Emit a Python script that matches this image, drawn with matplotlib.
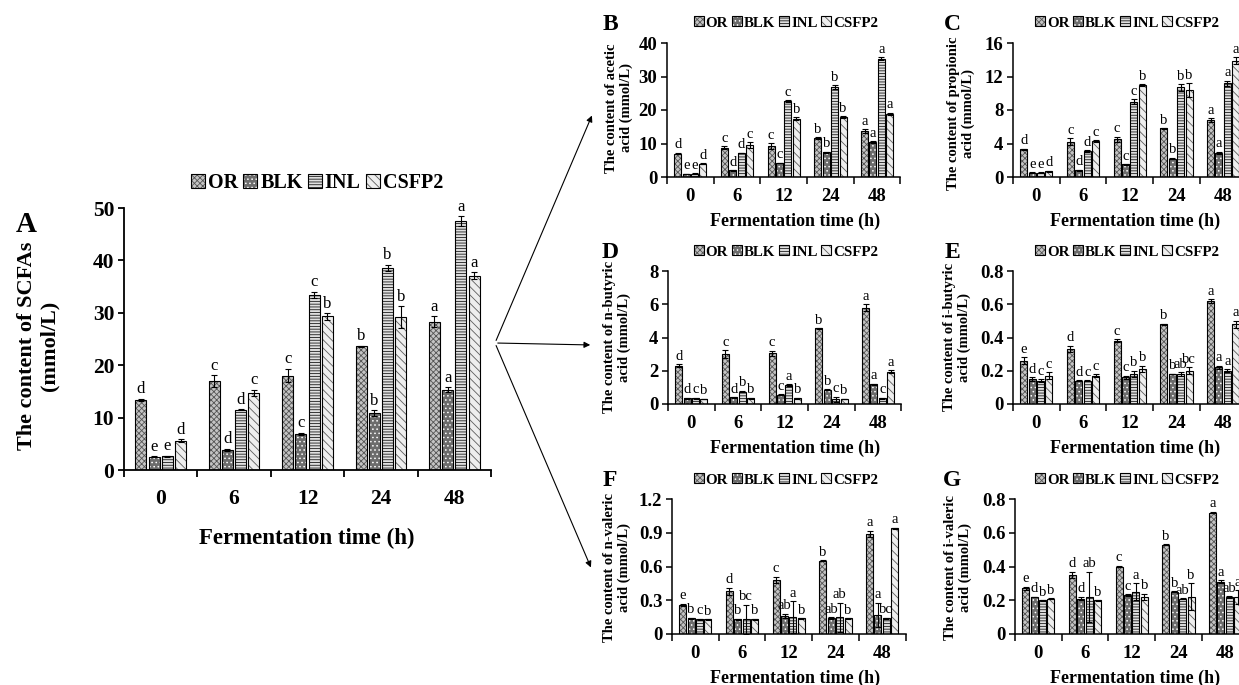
import matplotlib.pyplot as plt
import numpy as np
from matplotlib.patches import Patch, FancyArrowPatch

plt.rcParams['font.family'] = ['Liberation Serif', 'DejaVu Serif']
plt.rcParams['hatch.linewidth'] = 0.6

W, H = 1239, 685

times = ["0", "6", "12", "24", "48"]
series = ["OR", "BLK", "INL", "CSFP2"]

# --- A: total SCFAs (rows: OR, BLK, INL, CSFP2) ---
a_vals = [[13.4, 17.0, 18.0, 23.6, 28.3],
          [2.5, 3.9, 6.9, 10.9, 15.3],
          [2.6, 11.5, 33.4, 38.6, 47.5],
          [5.6, 14.7, 29.3, 29.2, 37.1]]
a_errs = [[0.2, 1.1, 1.3, 0.1, 1.0],
          [0.1, 0.2, 0.2, 0.5, 0.5],
          [0.1, 0.1, 0.6, 0.6, 0.9],
          [0.3, 0.6, 0.6, 2.1, 0.6]]
a_lets = [["d", "c", "c", "b", "a"], ["e", "d", "c", "b", "a"],
          ["e", "d", "c", "b", "a"], ["d", "c", "b", "b", "a"]]

# --- B: acetic acid ---
b_vals = [[7.0, 8.8, 9.3, 11.6, 13.6],
          [0.9, 2.0, 4.2, 7.4, 10.4],
          [1.0, 7.2, 22.6, 26.9, 35.3],
          [4.0, 9.6, 17.4, 17.9, 18.9]]
b_errs = [[0.2, 0.4, 0.8, 0.2, 0.6],
          [0.1, 0.1, 0.1, 0.2, 0.2],
          [0.1, 0.1, 0.3, 0.5, 0.5],
          [0.1, 0.8, 0.4, 0.2, 0.3]]
b_lets = [["d", "c", "c", "b", "a"], ["e", "d", "c", "b", "a"],
          ["e", "d", "c", "b", "a"], ["d", "c", "b", "b", "a"]]

# --- C: propionic acid ---
c_vals = [[3.3, 4.2, 4.5, 5.8, 6.8],
          [0.5, 0.8, 1.5, 2.2, 2.9],
          [0.5, 3.1, 9.0, 10.7, 11.2],
          [0.7, 4.3, 11.0, 10.4, 13.9]]
c_errs = [[0.1, 0.4, 0.3, 0.05, 0.2],
          [0.05, 0.05, 0.05, 0.1, 0.1],
          [0.05, 0.1, 0.3, 0.4, 0.3],
          [0.05, 0.1, 0.1, 0.8, 0.4]]
c_lets = [["d", "c", "c", "b", "a"], ["e", "d", "c", "b", "a"],
          ["e", "d", "c", "b", "a"], ["d", "c", "b", "b", "a"]]

# --- D: n-butyric acid ---
d_vals = [[2.3, 3.0, 3.05, 4.55, 5.8],
          [0.35, 0.4, 0.55, 0.85, 1.2],
          [0.35, 0.75, 1.15, 0.3, 0.35],
          [0.3, 0.35, 0.35, 0.3, 1.95]]
d_errs = [[0.1, 0.25, 0.15, 0.02, 0.2],
          [0.02, 0.02, 0.03, 0.03, 0.03],
          [0.02, 0.05, 0.05, 0.15, 0.02],
          [0.02, 0.02, 0.02, 0.02, 0.1]]
d_lets = [["d", "c", "c", "b", "a"], ["d", "d", "c", "b", "a"],
          ["c", "b", "a", "c", "c"], ["b", "b", "b", "b", "a"]]

# --- E: i-butyric acid ---
e_vals = [[0.26, 0.33, 0.38, 0.48, 0.62],
          [0.15, 0.14, 0.16, 0.18, 0.22],
          [0.14, 0.14, 0.18, 0.18, 0.20],
          [0.17, 0.17, 0.21, 0.20, 0.48]]
e_errs = [[0.02, 0.02, 0.01, 0.002, 0.01],
          [0.01, 0.002, 0.01, 0.002, 0.01],
          [0.01, 0.002, 0.02, 0.01, 0.01],
          [0.02, 0.01, 0.02, 0.02, 0.02]]
e_lets = [["e", "d", "c", "b", "a"], ["d", "d", "c", "b", "a"],
          ["c", "c", "b", "ab", "a"], ["c", "c", "b", "bc", "a"]]

# --- F: n-valeric acid ---
f_vals = [[0.26, 0.38, 0.48, 0.65, 0.89],
          [0.14, 0.13, 0.16, 0.14, 0.17],
          [0.13, 0.13, 0.15, 0.15, 0.14],
          [0.13, 0.13, 0.14, 0.14, 0.94]]
f_errs = [[0.01, 0.03, 0.03, 0.005, 0.03],
          [0.005, 0.005, 0.02, 0.01, 0.11],
          [0.005, 0.13, 0.14, 0.13, 0.005],
          [0.003, 0.005, 0.003, 0.003, 0.005]]
f_lets = [["e", "d", "c", "b", "a"], ["b", "b", "ab", "ab", "a"],
          ["c", "bc", "a", "ab", "bc"], ["b", "b", "b", "b", "a"]]

# --- G: i-valeric acid ---
g_vals = [[0.27, 0.35, 0.40, 0.53, 0.72],
          [0.22, 0.21, 0.23, 0.25, 0.31],
          [0.20, 0.22, 0.25, 0.21, 0.22],
          [0.21, 0.20, 0.22, 0.22, 0.22]]
g_errs = [[0.01, 0.02, 0.005, 0.002, 0.005],
          [0.002, 0.01, 0.005, 0.002, 0.01],
          [0.002, 0.15, 0.05, 0.002, 0.005],
          [0.002, 0.002, 0.02, 0.08, 0.04]]
g_lets = [["e", "d", "c", "b", "a"], ["d", "d", "c", "b", "a"],
          ["b", "ab", "a", "ab", "ab"], ["b", "b", "b", "b", "a"]]

# bar looks: face, hatch, hatch colour
faces = ["#c4c4c4", "#6c6c6c", "#e0e0e0", "#eeeeee"]
hatches = ["xxxxxx", "....", "------", "\\\\\\\\"]
hatch_cols = ["#555555", "#ffffff", "#1a1a1a", "#5e5e5e"]

fig = plt.figure(figsize=(W / 100, H / 100), dpi=100)


def px_axes(x0, x1, ytop, ybot):
    return fig.add_axes([x0 / W, 1 - ybot / H, (x1 - x0) / W, (ybot - ytop) / H])


def fx(x):
    return x / W


def fy(y):
    return 1 - y / H


def draw(ax, vals, errs, lets, ylim, yticks, ylabels, fs_tick, fs_let, xpad, lw):
    x = np.arange(len(times)) + 0.5
    step, width = 0.18, 0.15
    for k in range(4):
        pos = x + (k - 1.5) * step
        ax.bar(pos, vals[k], width, color=faces[k], hatch=hatches[k],
               edgecolor=hatch_cols[k], linewidth=0, zorder=2)
        ax.bar(pos, vals[k], width, fill=False, edgecolor="black",
               linewidth=0.8, zorder=3)
        ax.errorbar(pos, vals[k], yerr=errs[k], fmt="none", ecolor="black",
                    elinewidth=0.8, capsize=2.2, capthick=0.8, zorder=4)
        for p, v, e, t in zip(pos, vals[k], errs[k], lets[k]):
            ax.annotate(t, (p, v + e), xytext=(0, 1), textcoords="offset points",
                        ha="center", va="bottom", fontsize=fs_let)
    ax.set_xlim(0, len(times))
    ax.set_ylim(*ylim)
    ax.set_yticks(yticks, ylabels, fontsize=fs_tick, fontweight="bold")
    ax.set_xticks(x, times, fontsize=fs_tick, fontweight="bold")
    ax.set_xticks(np.arange(len(times) + 1), minor=True)
    ax.tick_params(axis="x", which="major", length=0, pad=xpad)
    ax.tick_params(axis="x", which="minor", length=5, width=lw, direction="out")
    ax.tick_params(axis="y", length=4, width=lw, direction="out", pad=3)
    for s in ["top", "right"]:
        ax.spines[s].set_visible(False)
    for s in ["left", "bottom"]:
        ax.spines[s].set_linewidth(lw)


def legend(cx, cy, size, hl):
    handles = [(Patch(facecolor=faces[k], hatch=hatches[k], edgecolor=hatch_cols[k], lw=0),
                Patch(fill=False, edgecolor="black", lw=0.8)) for k in range(4)]
    fig.legend(handles, series, loc="center", bbox_to_anchor=(fx(cx), fy(cy)), ncol=4,
               frameon=False, handlelength=hl, handleheight=hl, handletextpad=0.15,
               columnspacing=0.25, borderpad=0, prop=dict(weight="bold", size=size))


# --- panel A ---
axA = px_axes(124, 491, 208, 470)
draw(axA, a_vals, a_errs, a_lets, (0, 50), [0, 10, 20, 30, 40, 50],
     ["0", "10", "20", "30", "40", "50"], 15.5, 12, 14, 1.3)
legend(317, 183, 14.5, 0.7)
fig.text(fx(26), fy(224), "A", fontsize=21, fontweight="bold", ha="center", va="center")
fig.text(fx(38), fy(346), "The content of SCFAs\n(mmol/L)", rotation=90, fontsize=16,
         fontweight="bold", ha="center", va="center", linespacing=1.15)
fig.text(fx(307), fy(538), "Fermentation time (h)", fontsize=16.5, fontweight="bold",
         ha="center", va="center")

# --- small panels ---
small = [
    ("B", b_vals, b_errs, b_lets, 667, 43, 177, (0, 40), [0, 10, 20, 30, 40],
     ["0", "10", "20", "30", "40"], "The content of acetic\nacid (mmol/L)", 619, 108),
    ("C", c_vals, c_errs, c_lets, 1013, 43, 177, (0, 16), [0, 4, 8, 12, 16],
     ["0", "4", "8", "12", "16"], "The content of propionic\nacid (mmol/L)", 961, 113),
    ("D", d_vals, d_errs, d_lets, 668, 271, 404, (0, 8), [0, 2, 4, 6, 8],
     ["0", "2", "4", "6", "8"], "The content of n-butyric\nacid (mmol/L)", 617, 337),
    ("E", e_vals, e_errs, e_lets, 1013, 271, 404, (0, 0.8), [0, 0.2, 0.4, 0.6, 0.8],
     ["0", "0.2", "0.4", "0.6", "0.8"], "The content of i-butyric\nacid (mmol/L)", 957, 337),
    ("F", f_vals, f_errs, f_lets, 672, 499, 634, (0, 1.2), [0, 0.3, 0.6, 0.9, 1.2],
     ["0", "0.3", "0.6", "0.9", "1.2"], "The content of n-valeric\nacid (mmol/L)", 617, 568),
    ("G", g_vals, g_errs, g_lets, 1015, 499, 634, (0, 0.8), [0, 0.2, 0.4, 0.6, 0.8],
     ["0", "0.2", "0.4", "0.6", "0.8"], "The content of i-valeric\nacid (mmol/L)", 958, 568),
]
step_px = 46.7
for tag, v, e, l, x0, ytop, ybot, ylim, yt, yl, ylab, lx, ly in small:
    ax = px_axes(x0, x0 + 5 * step_px, ytop, ybot)
    draw(ax, v, e, l, ylim, yt, yl, 13.5, 10.5, 8, 1.1)
    right = x0 > 900
    legend(1127 if right else 786, ytop - 20 if tag in "BC" else ytop - 19, 10.8, 0.65)
    fig.text(fx(952 if right else 610), fy(ytop - 19), tag, fontsize=17,
             fontweight="bold", ha="center", va="center")
    fig.text(fx(lx), fy(ly), ylab, rotation=90, fontsize=10.5, fontweight="bold",
             ha="center", va="center", linespacing=1.1)
    fig.text(fx(1135 if right else 795), fy(ybot + 44), "Fermentation time (h)",
             fontsize=13, fontweight="bold", ha="center", va="center")

# arrows from panel A to the detail panels
for tx, ty in [(593, 113), (593, 345), (592, 570)]:
    fig.add_artist(FancyArrowPatch((fx(495), fy(343)), (fx(tx), fy(ty)),
                                   transform=fig.transFigure, arrowstyle="-|>",
                                   mutation_scale=9, lw=0.8, color="black"))

fig.savefig("out.png", dpi=100)
